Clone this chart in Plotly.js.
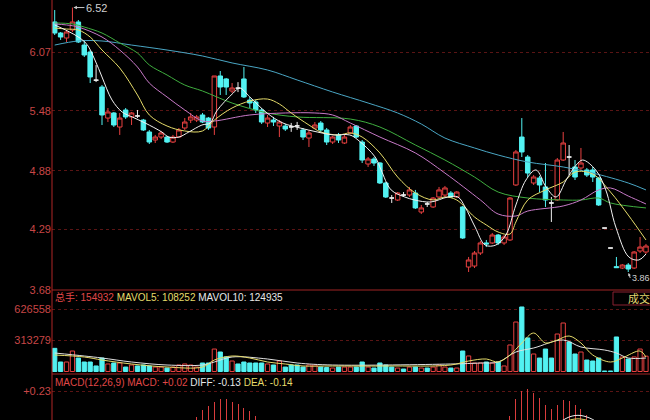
<!DOCTYPE html>
<html><head><meta charset="utf-8">
<script src="https://cdn.plot.ly/plotly-3.0.1.min.js"></script>
<style>html,body{margin:0;padding:0;background:#000;}#chart{width:650px;height:420px;}</style>
</head><body><div id="chart"></div>
<script>
// ---- daily candles (index 0..100) ----
const openP  = [6.375,6.264,6.214,6.294,6.375,6.143,6.073,5.79,5.721,5.409,5.460,5.319,5.490,5.420,5.43,5.389,5.269,5.188,5.218,5.218,5.168,5.218,5.309,5.389,5.389,5.440,5.409,5.319,5.832,5.802,5.681,5.71,5.802,5.590,5.570,5.490,5.359,5.389,5.329,5.329,5.32,5.33,5.289,5.208,5.309,5.359,5.289,5.168,5.239,5.158,5.259,5.329,5.168,4.947,4.997,4.957,4.756,4.605,4.585,4.635,4.635,4.655,4.464,4.545,4.515,4.615,4.635,4.655,4.615,4.515,3.911,3.921,4.052,4.153,4.153,4.233,4.153,4.183,4.736,5.218,5.017,4.756,4.806,4.716,4.555,4.585,4.987,5.017,4.917,4.907,4.887,4.887,4.806,4.303,4.102,3.915,3.901,3.931,3.901,4.072,4.062];
const highP  = [6.495,6.274,6.294,6.52,6.395,6.194,6.093,5.942,5.741,5.510,5.470,5.460,5.510,5.470,5.49,5.400,5.289,5.239,5.279,5.229,5.239,5.309,5.409,5.460,5.440,5.460,5.420,5.832,5.882,5.812,5.761,5.77,5.922,5.621,5.590,5.510,5.440,5.420,5.389,5.349,5.36,5.37,5.309,5.289,5.369,5.379,5.309,5.229,5.259,5.239,5.339,5.339,5.188,5.017,5.017,4.967,4.766,4.635,4.665,4.665,4.716,4.686,4.535,4.565,4.615,4.716,4.726,4.675,4.675,4.525,4.012,4.072,4.173,4.183,4.253,4.243,4.233,4.615,5.088,5.409,5.037,4.836,4.826,4.957,4.615,5.007,5.269,5.138,4.987,5.108,4.907,4.917,4.816,4.303,4.102,4.012,3.941,3.951,4.072,4.213,4.143];
const lowP   = [6.244,6.194,6.174,6.274,6.164,6.023,5.761,5.771,5.339,5.369,5.319,5.239,5.400,5.339,5.41,5.279,5.148,5.158,5.198,5.158,5.158,5.208,5.289,5.359,5.369,5.359,5.289,5.239,5.641,5.641,5.661,5.67,5.611,5.510,5.460,5.349,5.319,5.329,5.218,5.279,5.27,5.29,5.188,5.118,5.299,5.269,5.138,5.148,5.158,5.148,5.249,5.208,4.957,4.917,4.927,4.746,4.605,4.555,4.575,4.615,4.615,4.495,4.444,4.515,4.505,4.605,4.615,4.605,4.605,4.193,3.861,3.901,4.032,4.112,4.143,4.133,4.133,4.173,4.726,5.017,4.816,4.736,4.665,4.515,4.364,4.575,4.977,4.836,4.786,4.887,4.816,4.766,4.525,4.303,4.102,3.901,3.891,3.861,3.891,4.052,4.042];
const closeP = [6.264,6.224,6.274,6.375,6.174,6.043,5.822,5.79,5.440,5.470,5.339,5.409,5.420,5.460,5.43,5.289,5.168,5.218,5.259,5.168,5.218,5.289,5.369,5.420,5.420,5.369,5.309,5.832,5.721,5.721,5.711,5.71,5.621,5.560,5.490,5.369,5.409,5.369,5.369,5.299,5.32,5.33,5.218,5.259,5.339,5.289,5.168,5.218,5.188,5.218,5.319,5.218,4.987,4.997,4.957,4.756,4.615,4.605,4.655,4.635,4.686,4.505,4.505,4.545,4.605,4.686,4.706,4.615,4.665,4.203,3.982,4.052,4.153,4.143,4.233,4.153,4.213,4.605,5.068,5.068,4.856,4.816,4.736,4.585,4.555,4.987,5.158,5.017,4.816,4.957,4.836,4.816,4.535,4.303,4.102,3.905,3.931,3.891,4.062,4.112,4.122];
const volume = [234000,96000,96000,207000,136000,96000,96000,56000,136000,76000,86000,86000,45000,66000,56000,66000,56000,45000,45000,35000,45000,66000,76000,66000,45000,86000,86000,227000,197000,147000,106000,76000,96000,86000,86000,86000,76000,66000,106000,45000,66000,66000,45000,66000,66000,45000,40000,35000,45000,45000,45000,45000,96000,45000,35000,86000,66000,45000,35000,25000,45000,45000,35000,35000,45000,66000,45000,35000,35000,207000,157000,86000,86000,96000,86000,96000,56000,268000,500000,652000,339000,177000,136000,227000,136000,379000,490000,298000,177000,197000,116000,106000,136000,5000,5000,349000,147000,126000,147000,227000,154932];

// ---- price moving averages ----
const ma5Idx = [0,5.1,6.8,8,9.7,11.4,13.1,15.3,18.1,19.3,21,22.7,24.9,26.3,27.4,30.2,31.3,33,35.9,38.6,41.5,44.4,47.1,49.9,51.3,54.2,55.2,56.9,59.2,60.9,63.6,66.5,68.2,69.4,71.1,72.8,74.6,76.3,78,79.7,81.4,83.1,84.8,86.5,88.2,89.3,91.5,93.2,94.9,97.1,98.8,100];
const ma5Val = [6.345,6.174,5.993,5.822,5.590,5.470,5.420,5.359,5.269,5.218,5.218,5.269,5.339,5.359,5.480,5.661,5.711,5.621,5.460,5.359,5.309,5.269,5.239,5.239,5.188,5.017,4.887,4.686,4.615,4.585,4.565,4.615,4.615,4.515,4.313,4.132,4.132,4.233,4.535,4.786,4.887,4.716,4.615,4.786,4.937,4.987,4.887,4.686,4.313,4.012,3.982,4.042];
const ma10Idx = [0,2,4,6,8,11,14,16,19,22,25,27,30,33,36,38,40,43,45,48,50,52,55,58,61,64,66,68,71,73,75,77,78,80,83,86,88,91,94,97,100];
const ma10Val = [6.314,6.304,6.294,6.224,6.093,5.912,5.641,5.440,5.329,5.279,5.279,5.389,5.510,5.580,5.600,5.550,5.460,5.339,5.269,5.239,5.259,5.218,5.058,4.816,4.655,4.585,4.615,4.585,4.414,4.334,4.263,4.243,4.364,4.585,4.686,4.766,4.866,4.846,4.665,4.434,4.183];
const ma20Idx = [0,2,4,8,11,14,16,19,22,25,27,33,39,44,47,50,55,61,66,72,75,78,80,86,89,92,94,97,100];
const ma20Val = [6.355,6.345,6.324,6.224,6.093,5.922,5.761,5.621,5.490,5.379,5.379,5.440,5.460,5.460,5.440,5.359,5.218,5.058,4.856,4.585,4.444,4.424,4.474,4.525,4.585,4.686,4.706,4.625,4.545];
const ma30Idx = [0,3,5,8,11,14,16,19,22,25,30,36,41,50,55,61,66,71,75,80,86,89,92,94,100];
const ma30Val = [6.365,6.355,6.324,6.264,6.164,6.063,5.943,5.842,5.741,5.681,5.560,5.460,5.420,5.399,5.319,5.138,4.987,4.816,4.665,4.605,4.585,4.585,4.605,4.555,4.505];
const ma60Idx = [0,4,8,13,19,25,30,36,41,47,53,58,62,66,71,75,80,86,91,97,100];
const ma60Val = [6.143,6.184,6.184,6.143,6.093,6.033,5.963,5.892,5.792,5.671,5.560,5.460,5.349,5.208,5.108,5.037,4.967,4.917,4.856,4.756,4.686];

// ---- volume moving averages ----
const mavol5Idx = [0,5,8,13,19,25,27,30,33,36,39,42,47,56,67,70,73,75,77,79,81,83,85,87,89,91,94,96,99,100];
const mavol5Val = [166700,146500,116200,75800,45500,45500,116200,156600,136400,96000,75800,55600,55600,55600,65700,106100,126300,96000,166700,288000,389100,288000,318300,358800,288000,166700,96000,136400,207200,146500];
const mavol10Idx = [0,5,8,13,19,25,27,30,36,41,47,67,72,75,78,81,86,89,93,95,97,100];
const mavol10Val = [187000,156600,136400,96000,65700,65700,96000,146500,126300,85900,65700,75800,85900,96000,197100,237500,318300,247600,217300,187000,136400,136400];

// ---- MACD (only the part that shows in the clipped panel) ----
const macdIdx = [24,25,26,27,28,29,30,31,32,33,34,77,78,79,80,81,82,83,84,85,86,87,88,89,90];
const macdVal = [0.127,0.154,0.171,0.187,0.197,0.197,0.187,0.177,0.163,0.150,0.131,0.130,0.198,0.230,0.238,0.222,0.202,0.174,0.160,0.176,0.194,0.189,0.174,0.160,0.134];
const diffIdx = [85,86,87,88,89,90,91,92];
const diffVal = [0.100,0.114,0.126,0.132,0.132,0.126,0.116,0.100];
const deaIdx = [86,87,88,89,90,91];
const deaVal = [0.104,0.113,0.118,0.118,0.113,0.104];

// ---- tick labels ----
const priceTicks = [3.68,4.29,4.88,5.48,6.07];
const volTicks = [313279,626558];
const macdTicks = [0.23];
const macdTickText = ['+0.23'];

const RED = '#e84040', CYAN = '#52f2f2', WHITE = '#f0f0f0';
const idx = closeP.map((_, i) => i);

function subset(filter){
  const o={x:[],open:[],high:[],low:[],close:[]};
  idx.forEach(i=>{ if(filter(i)){ o.x.push(i);o.open.push(openP[i]);o.high.push(highP[i]);o.low.push(lowP[i]);o.close.push(closeP[i]); } });
  return o;
}
const nonFlat = subset(i => openP[i] !== closeP[i]);
const flat = subset(i => openP[i] === closeP[i]);

const traces = [];
traces.push(Object.assign({type:'candlestick', xaxis:'x', yaxis:'y', hoverinfo:'none',
  increasing:{line:{color:RED,width:1}, fillcolor:'#000000'},
  decreasing:{line:{color:CYAN,width:1}, fillcolor:CYAN}}, nonFlat));
traces.push(Object.assign({type:'candlestick', xaxis:'x', yaxis:'y', hoverinfo:'none',
  increasing:{line:{color:WHITE,width:1}, fillcolor:WHITE},
  decreasing:{line:{color:WHITE,width:1}, fillcolor:WHITE}}, flat));

const maDefs = [
  [ma60Idx, ma60Val, '#4aa6c4'],
  [ma30Idx, ma30Val, '#3fae3f'],
  [ma20Idx, ma20Val, '#c87ac8'],
  [ma10Idx, ma10Val, '#e6dc6a'],
  [ma5Idx,  ma5Val,  '#f2f2f2']
];
maDefs.forEach(d => traces.push({type:'scatter', mode:'lines', x:d[0], y:d[1], xaxis:'x', yaxis:'y',
  line:{color:d[2], width:1, shape:'spline', smoothing:1}, hoverinfo:'none'}));

const volUp = idx.map(i => closeP[i] > openP[i]);
traces.push({type:'bar', x:idx, y:volume, xaxis:'x', yaxis:'y2', width:0.72, hoverinfo:'none',
  marker:{color: volUp.map(u => u ? '#000000' : CYAN), line:{color: volUp.map(u => u ? RED : CYAN), width:1}}});
traces.push({type:'scatter', mode:'lines', x:mavol10Idx, y:mavol10Val, xaxis:'x', yaxis:'y2',
  line:{color:'#e0e0e0', width:1, shape:'spline'}, hoverinfo:'none'});
traces.push({type:'scatter', mode:'lines', x:mavol5Idx, y:mavol5Val, xaxis:'x', yaxis:'y2',
  line:{color:'#e6dc6a', width:1, shape:'spline'}, hoverinfo:'none'});

traces.push({type:'bar', x:macdIdx, y:macdVal, xaxis:'x', yaxis:'y3', width:0.17, hoverinfo:'none',
  marker:{color:'#d83c3c', line:{width:0}}});
traces.push({type:'scatter', mode:'lines', x:deaIdx, y:deaVal, xaxis:'x', yaxis:'y3',
  line:{color:'#e6dc6a', width:1, shape:'spline'}, hoverinfo:'none'});
traces.push({type:'scatter', mode:'lines', x:diffIdx, y:diffVal, xaxis:'x', yaxis:'y3',
  line:{color:'#f0f0f0', width:1, shape:'spline'}, hoverinfo:'none'});

const FONT = '"Liberation Sans", Arial, "Noto Sans CJK SC", sans-serif';
const tickFont = {family:FONT, size:11, color:'#c84646'};
const H = 420;
const py = px => (H - px) / H;   // pixel row -> paper fraction (layout helper)

const yBase = {showgrid:true, gridcolor:'#5a1414', griddash:'dot', gridwidth:1, zeroline:false,
  ticks:'', tickfont:tickFont, showline:false, fixedrange:true};

const layout = {
  width:650, height:420, margin:{l:52, r:0, t:0, b:0},
  paper_bgcolor:'#000', plot_bgcolor:'#000', showlegend:false,
  boxgap:0.2, boxgroupgap:0.05, bargap:0,
  xaxis:{range:[-0.457,100.68], showticklabels:false, showgrid:false, zeroline:false, ticks:'',
    rangeslider:{visible:false}, anchor:'y3', fixedrange:true},
  yaxis: Object.assign({}, yBase, {domain:[py(290),1], range:[3.68,6.596], tickvals:priceTicks,
    ticktext:priceTicks.map(v=>v.toFixed(2))}),
  yaxis2: Object.assign({}, yBase, {domain:[py(374),py(290)], range:[-25265,823639], tickvals:volTicks,
    ticktext:volTicks.map(String)}),
  yaxis3: Object.assign({}, yBase, {domain:[0,py(376)], range:[0.114,0.29], tickvals:macdTicks,
    ticktext:macdTickText}),
  shapes:[
    {type:'line', xref:'paper', yref:'paper', x0:0, x1:0, y0:0, y1:1, line:{color:'#b02626', width:1}},
    {type:'line', xref:'paper', yref:'paper', x0:0, x1:1, y0:py(290), y1:py(290), line:{color:'#a02424', width:1}},
    {type:'line', xref:'paper', yref:'paper', x0:0, x1:1, y0:py(374), y1:py(374), line:{color:'#a02424', width:1}},
    {type:'rect', xref:'paper', yref:'paper', x0:(613-52)/598, x1:1.01, y0:py(305), y1:py(292), line:{color:'#8a2030', width:1}}
  ],
  annotations:[
    {xref:'paper', yref:'paper', x:0.002, y:py(297), xanchor:'left', yanchor:'middle', showarrow:false,
     font:{family:FONT, size:10},
     text:'<span style="color:#e04848">总手: 154932</span> <span style="color:#e6dc6a">MAVOL5: 108252</span> <span style="color:#e8e8e8">MAVOL10: 124935</span>'},
    {xref:'paper', yref:'paper', x:0.002, y:py(382), xanchor:'left', yanchor:'middle', showarrow:false,
     font:{family:FONT, size:10},
     text:'<span style="color:#e04848">MACD(12,26,9) MACD: +0.02</span> <span style="color:#e8e8e8">DIFF: -0.13</span> <span style="color:#e6dc6a">DEA: -0.14</span>'},
    {xref:'paper', yref:'paper', x:(626-52)/598, y:py(298.5), xanchor:'left', yanchor:'middle', showarrow:false,
     font:{family:FONT, size:11, color:'#e6d670'}, text:'成交'},
    {xref:'x', yref:'y', x:3, y:6.52, text:'6.52', showarrow:true, ax:12, ay:0, xanchor:'left',
     arrowhead:2, arrowsize:0.7, arrowwidth:1, arrowcolor:'#c8c8c8', standoff:1,
     font:{family:FONT, size:11, color:'#d0d0d0'}},
    {xref:'x', yref:'y', x:97, y:3.861, text:'3.86', showarrow:true, ax:2, ay:6, xanchor:'left',
     arrowhead:2, arrowsize:0.6, arrowwidth:1, arrowcolor:'#c8c8c8', standoff:1,
     font:{family:FONT, size:9, color:'#d0d0d0'}}
  ]
};

Plotly.newPlot('chart', traces, layout, {staticPlot:true, displayModeBar:false});
</script>
</body></html>
